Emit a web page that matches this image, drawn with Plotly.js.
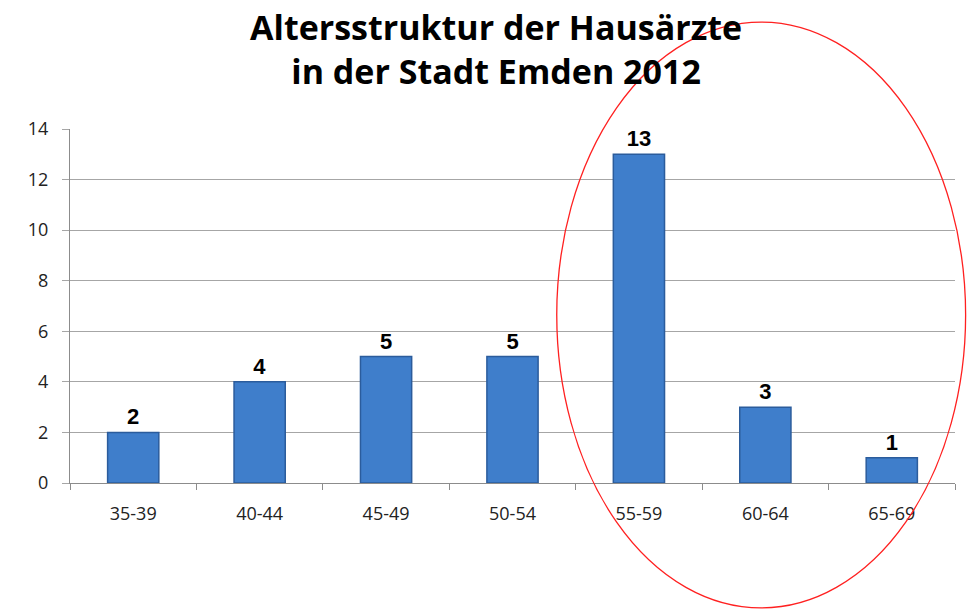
<!DOCTYPE html>
<html>
<head>
<meta charset="utf-8">
<script src="https://cdn.plot.ly/plotly-3.0.1.min.js"></script>
<style>
  html, body { margin: 0; padding: 0; background: #fff; }
  #chart { width: 967px; height: 610px; }
</style>
</head>
<body>
<div id="chart"></div>
<script>
// Altersgruppen und Anzahl Hausärzte
var altersgruppen = ['35-39', '40-44', '45-49', '50-54', '55-59', '60-64', '65-69'];
var anzahl = [2, 4, 5, 5, 13, 3, 1];
var yTicks = [0, 2, 4, 6, 8, 10, 12, 14];

var bars = {
    x: altersgruppen,
    y: anzahl,
    type: 'bar',
    text: anzahl.map(function (v) { return '<b>' + v + '</b>'; }),
    textposition: 'outside',
    cliponaxis: false,
    textfont: {family: 'Liberation Sans, Arial, sans-serif', size: 22, color: '#000'},
    marker: {
        color: '#3f7ecb',
        line: {color: '#2b5c9c', width: 1.5}
    },
    hoverinfo: 'skip'
};

var layout = {
    width: 967,
    height: 610,
    margin: {l: 70, r: 12, t: 129, b: 127},
    paper_bgcolor: '#fff',
    plot_bgcolor: '#fff',
    showlegend: false,
    bargap: 0.595,
    title: {
        text: '<b>Altersstruktur der Hausärzte<br>in der Stadt Emden 2012</b>',
        font: {family: 'Open Sans, sans-serif', size: 34, color: '#000'},
        x: 0.513, xref: 'container', xanchor: 'center',
        y: 0.934, yref: 'container', yanchor: 'top'
    },
    xaxis: {
        type: 'category',
        showgrid: false,
        showline: true,
        linecolor: '#8c8c8c',
        linewidth: 1,
        ticks: 'outside',
        tickson: 'boundaries',
        ticklen: 6,
        tickcolor: '#8c8c8c',
        tickfont: {family: 'Open Sans, sans-serif', size: 18, color: '#222'},
        ticklabelstandoff: 14
    },
    yaxis: {
        range: [0, 14],
        tickvals: yTicks,
        showgrid: true,
        gridcolor: '#a6a6a6',
        gridwidth: 1,
        zeroline: false,
        showline: true,
        linecolor: '#8c8c8c',
        ticks: 'outside',
        ticklen: 7,
        tickcolor: '#a6a6a6',
        tickfont: {family: 'Open Sans, sans-serif', size: 18, color: '#222'},
        ticklabelstandoff: 10
    },
    shapes: [{
        type: 'circle',
        xref: 'paper', yref: 'paper',
        x0: 0.550, x1: 1.012,
        y0: -0.353, y1: 1.302,
        line: {color: '#ff2020', width: 1.3}
    }]
};

Plotly.newPlot('chart', [bars], layout, {displayModeBar: false, staticPlot: true});
</script>
</body>
</html>
